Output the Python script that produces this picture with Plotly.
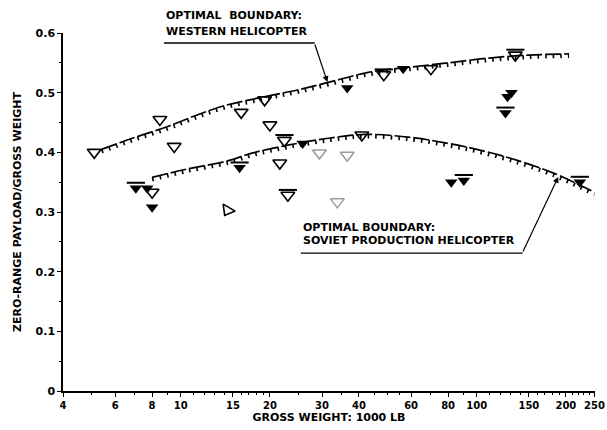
import numpy as np
import plotly.graph_objects as go

# ---------------- data ----------------
# Western helicopters (open triangles)
west_x = [5.1, 8.5, 9.5, 8.0, 16.0, 19.2, 20.0, 22.4, 21.6, 23.0, 14.4, 40.9, 48.5, 70.0, 135.0]
west_y = [0.400, 0.455, 0.410, 0.333, 0.467, 0.488, 0.446, 0.420, 0.382, 0.328, 0.303, 0.429, 0.530, 0.540, 0.563]
west_bar = [0, 0, 0, 0, 0, 0, 0, 1, 0, 1, 0, 0, 1, 0, 1]
west_angle = [0, 0, 0, 0, 0, 0, 0, 0, 0, 0, 30, 0, 0, 0, 0]

# faint (partially printed) western points
faint_x = [29.4, 36.5, 33.8]
faint_y = [0.399, 0.395, 0.317]

# Soviet helicopters (filled triangles)
sov_x = [7.05, 7.7, 8.0, 15.8, 25.8, 36.5, 56.4, 82.0, 90.4, 127.0, 131.0, 125.0, 223.0]
sov_y = [0.340, 0.340, 0.308, 0.374, 0.415, 0.508, 0.540, 0.350, 0.353, 0.493, 0.500, 0.466, 0.350]
sov_bar = [1, 0, 0, 1, 0, 0, 0, 0, 1, 0, 0, 1, 1]

# optimal boundaries
wb_x = [5.4, 7.0, 9.0, 11.0, 14.0, 20.0, 25.0, 32.0, 43.0, 60.0, 80.0, 110.0, 150.0, 205.0]
wb_y = [0.405, 0.425, 0.443, 0.460, 0.478, 0.495, 0.505, 0.518, 0.534, 0.543, 0.550, 0.558, 0.563, 0.565]
sb_x = [8.0, 10.5, 14.5, 17.5, 23.0, 32.0, 42.0, 60.0, 80.0, 100.0, 130.0, 180.0, 250.0]
sb_y = [0.358, 0.372, 0.386, 0.399, 0.412, 0.424, 0.430, 0.425, 0.415, 0.405, 0.390, 0.366, 0.333]

x_ticks = [4, 6, 8, 10, 15, 20, 30, 40, 60, 80, 100, 150, 200, 250]
x_ticktext = ["4", "6", "8", "10", "15", "20", "30", "40", "60", "80", "100", "150", "200", "250"]
x_minor = [5, 7, 9, 11, 12, 13, 14, 16, 17, 18, 19, 25, 35, 45, 50, 55, 70, 90,
           110, 120, 130, 140, 160, 170, 180, 190, 210, 220, 230, 240]
y_ticks = [0, 0.1, 0.2, 0.3, 0.4, 0.5, 0.6]
y_ticktext = ["0", "0.1", "0.2", "0.3", "0.4", "0.5", "0.6"]

FONT = "DejaVu Sans"
HATCH_OFF = 0.0035   # hatch ticks hang just below each boundary line
BAR_OFF = 0.009      # bar drawn just above a triangle

fig = go.Figure()

for bx, by in [(wb_x, wb_y), (sb_x, sb_y)]:
    fig.add_trace(go.Scatter(x=bx, y=by, mode="lines",
                             line=dict(color="black", width=1.7, shape="spline", dash="16px,3px"),
                             hoverinfo="skip", showlegend=False))
    fig.add_trace(go.Scatter(x=bx, y=[v - HATCH_OFF for v in by], mode="lines",
                             line=dict(color="black", width=4, shape="spline", dash="1.6px,6px"),
                             hoverinfo="skip", showlegend=False))

fig.add_trace(go.Scatter(x=faint_x, y=faint_y, mode="markers",
                         marker=dict(symbol="triangle-down-open", size=12, color="#9a9a9a",
                                     line=dict(width=1.5)),
                         showlegend=False))
fig.add_trace(go.Scatter(x=west_x, y=west_y, mode="markers",
                         marker=dict(symbol="triangle-down-open", size=12, color="black",
                                     angle=west_angle, line=dict(width=1.6)),
                         showlegend=False))
fig.add_trace(go.Scatter(x=sov_x, y=sov_y, mode="markers",
                         marker=dict(symbol="triangle-down", size=11, color="black"),
                         showlegend=False))

# short bars above some triangles
bar_x = [x for x, b in zip(west_x, west_bar) if b] + [x for x, b in zip(sov_x, sov_bar) if b]
bar_y = [y + BAR_OFF for y, b in zip(west_y, west_bar) if b] + \
        [y + BAR_OFF for y, b in zip(sov_y, sov_bar) if b]
fig.add_trace(go.Scatter(x=bar_x, y=bar_y, mode="markers",
                         marker=dict(symbol="line-ew", size=13, color="black",
                                     line=dict(width=2, color="black")),
                         showlegend=False))

ann_font = dict(family=FONT, size=11, color="black", weight="bold")
anns = [
    dict(x=0.19, y=1.050, text="OPTIMAL  BOUNDARY:"),
    dict(x=0.19, y=1.003, text="WESTERN HELICOPTER"),
    dict(x=0.447, y=0.458, text="OPTIMAL BOUNDARY:"),
    dict(x=0.447, y=0.419, text="SOVIET PRODUCTION HELICOPTER"),
]
annotations = [dict(xref="paper", yref="paper", xanchor="left", yanchor="middle",
                    showarrow=False, font=ann_font, **a) for a in anns]
annotations += [
    dict(xref="paper", yref="paper", x=0.497, y=0.863, ax=-13, ay=-39, text="",
         showarrow=True, arrowhead=2, arrowsize=1, arrowwidth=1.2, arrowcolor="black"),
    dict(xref="paper", yref="paper", x=0.931, y=0.598, ax=-36, ay=76, text="",
         showarrow=True, arrowhead=2, arrowsize=1, arrowwidth=1.2, arrowcolor="black"),
]
shapes = [
    dict(type="line", xref="paper", yref="paper", x0=0.19, x1=0.473, y0=0.972, y1=0.972,
         line=dict(color="black", width=1.4)),
    dict(type="line", xref="paper", yref="paper", x0=0.447, x1=0.864, y0=0.385, y1=0.385,
         line=dict(color="black", width=1.4)),
]

fig.update_layout(
    width=607, height=430,
    margin=dict(l=63, r=12, t=33, b=39, autoexpand=False),
    paper_bgcolor="white", plot_bgcolor="white",
    font=dict(family=FONT, size=11, color="black", weight="bold"),
    annotations=annotations, shapes=shapes,
)
fig.update_xaxes(type="log", range=[np.log10(4), np.log10(250) + 0.0015],
                 tickvals=x_ticks, ticktext=x_ticktext, tickangle=0,
                 ticklabeloverflow="allow", automargin=False,
                 ticks="outside", ticklen=4, tickwidth=1.2, tickcolor="black",
                 minor=dict(tickmode="array", tickvals=x_minor, ticks="outside", ticklen=2,
                            tickcolor="black"),
                 showline=True, linecolor="black", linewidth=1.5, showgrid=False, zeroline=False,
                 tickfont=dict(family=FONT, size=10, color="black", weight="bold"),
                 title=dict(text="GROSS WEIGHT: 1000 LB", standoff=4,
                            font=dict(family=FONT, size=11, color="black", weight="bold")))
fig.update_yaxes(range=[0, 0.6], tickvals=y_ticks, ticktext=y_ticktext, automargin=False,
                 ticks="outside", ticklen=4, tickwidth=1.2, tickcolor="black",
                 minor=dict(dtick=0.05, ticks="outside", ticklen=2, tickcolor="black"),
                 showline=True, linecolor="black", linewidth=1.5, showgrid=False, zeroline=False,
                 tickfont=dict(family=FONT, size=11, color="black", weight="bold"),
                 title=dict(text="ZERO-RANGE PAYLOAD/GROSS WEIGHT", standoff=12,
                            font=dict(family=FONT, size=11, color="black", weight="bold")))

fig.write_html("out.html")
